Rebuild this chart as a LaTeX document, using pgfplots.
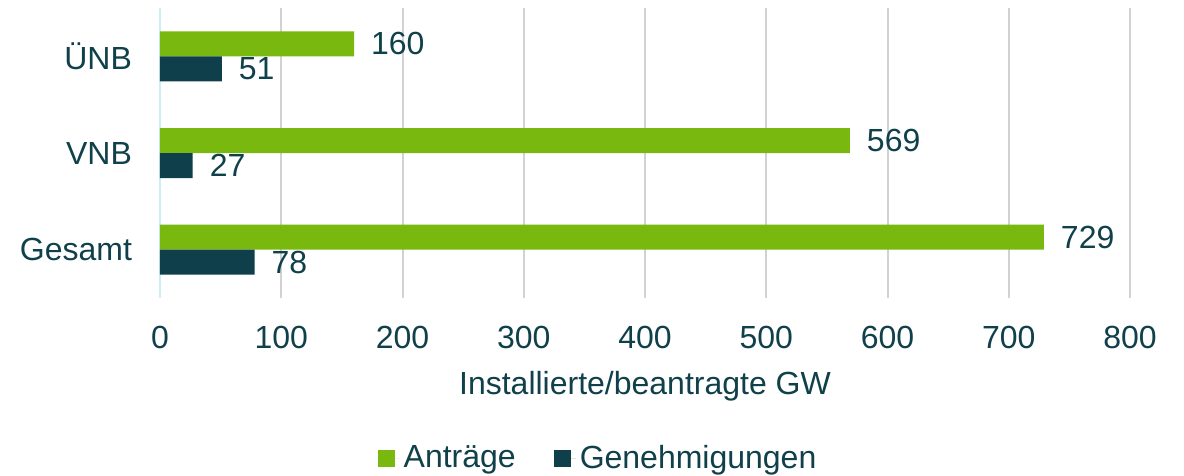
\documentclass[border=0pt]{standalone}
\usepackage{pgfplots}
\pgfplotsset{compat=1.18}
\usepackage{fontspec}
\setmainfont{Liberation Sans}
\definecolor{cgreen}{RGB}{120,184,15}
\definecolor{cdark}{RGB}{14,63,74}
\definecolor{ctext}{RGB}{16,64,74}
\definecolor{cgrid}{RGB}{210,210,210}
\definecolor{caxis}{RGB}{205,238,245}
\begin{document}
\begin{tikzpicture}[font=\fontsize{16}{19}\selectfont]
\begin{axis}[
  scale only axis, width=485pt, height=145pt,
  xbar, bar width=12.5pt,
  xmin=0, xmax=800, ymin=-0.5, ymax=2.5,
  xtick={0,100,...,800},
  ytick={0,1,2}, yticklabels={Gesamt,VNB,ÜNB},
  axis lines*=left,
  axis line style={-},
  x axis line style={draw=none},
  y axis line style={draw=caxis, line width=1pt},
  major tick length=0pt,
  xmajorgrids, grid style={cgrid, line width=1pt},
  tick label style={text=ctext, font=\fontsize{16}{19}\selectfont},
  xticklabel style={yshift=-10.5pt},
  yticklabel style={xshift=-10.5pt},
  /pgf/number format/assume math mode=true,
  nodes near coords,
  nodes near coords style={anchor=west, text=ctext, xshift=5pt, font=\fontsize{16}{19}\selectfont},
  xlabel={Installierte/beantragte GW},
  xlabel style={at={(axis description cs:0.5,0)}, anchor=north, yshift=-33pt, text=ctext},
  legend style={at={(axis description cs:0.4526,-0.552)}, anchor=center, draw=none,
    legend columns=-1, text=ctext, font=\fontsize{16}{19}\selectfont,
    /tikz/every even column/.append style={column sep=17pt}},
  legend image code/.code={\fill[#1] (0pt,-4.25pt) rectangle (8.5pt,4.25pt); \path (0pt,0pt) -- (11pt,0pt);},
]
\addplot[fill=cgreen, draw=none, bar shift=6.25pt] coordinates {(729,0) (569,1) (160,2)};
\addplot[fill=cdark, draw=none, bar shift=-6.25pt] coordinates {(78,0) (27,1) (51,2)};
\legend{Anträge, Genehmigungen}
\end{axis}
\pgfresetboundingbox
\path (-80pt,-89pt) rectangle (512pt,149pt);
\end{tikzpicture}
\end{document}
